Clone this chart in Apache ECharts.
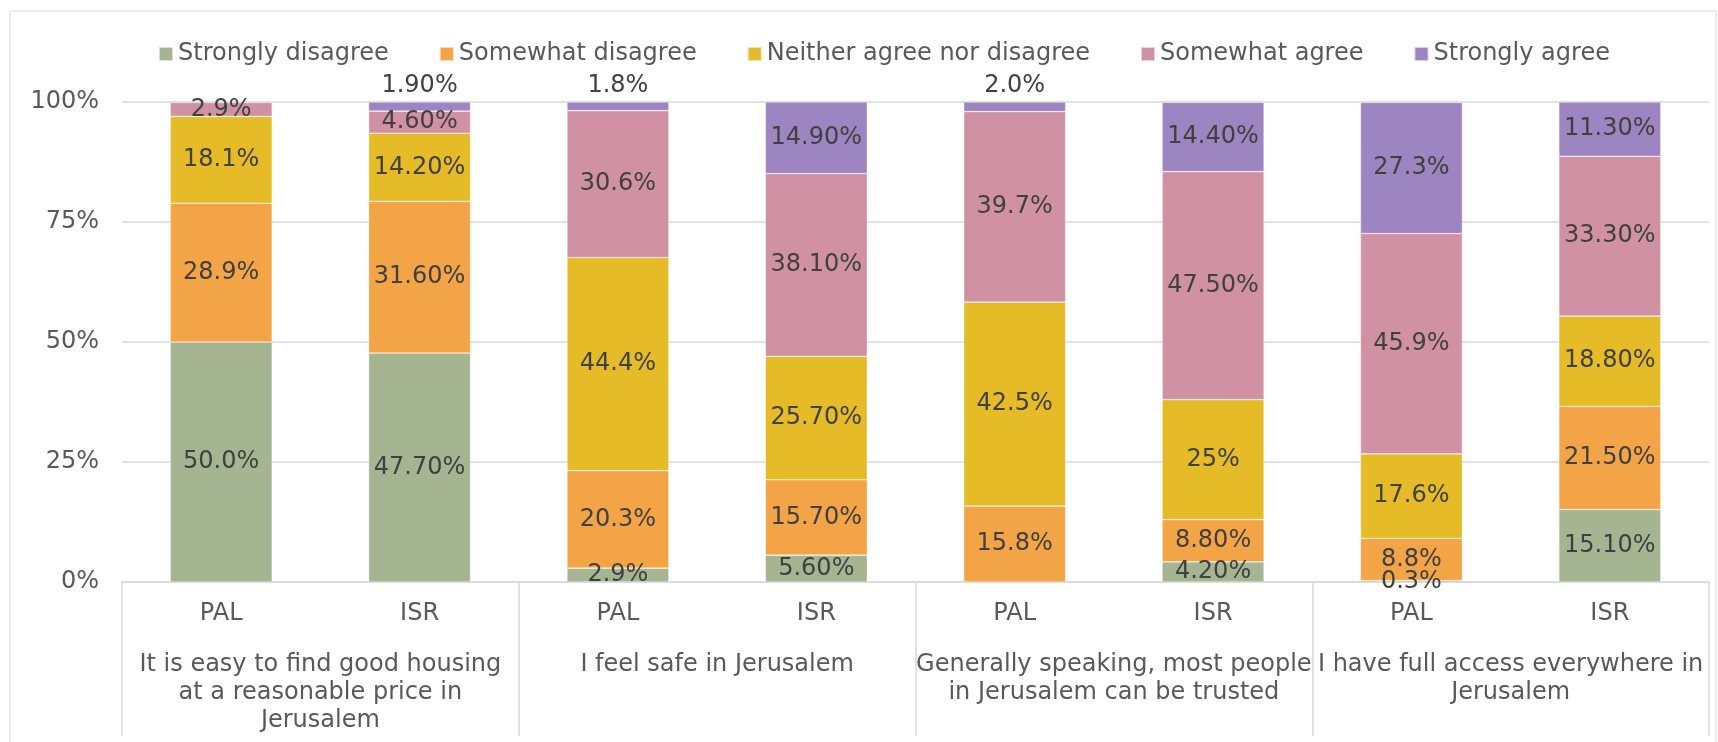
<!DOCTYPE html>
<html>
<head>
<meta charset="utf-8">
<title>Jerusalem survey</title>
<script src="https://cdn.jsdelivr.net/npm/echarts@6/dist/echarts.min.js"></script>
<style>
  html, body { margin: 0; padding: 0; background: #fff; }
  #chart { width: 1718px; height: 742px; }
</style>
</head>
<body>
<div id="chart"></div>
<script>
// sub categories (per bar) and the question groups under them
var groups = ["PAL", "ISR", "PAL", "ISR", "PAL", "ISR", "PAL", "ISR"];
var questions = [
  "It is easy to find good housing\nat a reasonable price in\nJerusalem",
  "I feel safe in Jerusalem",
  "Generally speaking, most people\nin Jerusalem can be trusted",
  "I have full access everywhere in\nJerusalem"
];
var seriesNames = ["Strongly disagree", "Somewhat disagree", "Neither agree nor disagree", "Somewhat agree", "Strongly agree"];
var colors = ["#a5b592", "#f3a447", "#e5bb27", "#d091a5", "#9c85c0"];

// values as printed on the chart (kept as strings so the decimals match)
var stronglyDisagree = ["50.0", "47.70", "2.9", "5.60", null, "4.20", "0.3", "15.10"];
var somewhatDisagree = ["28.9", "31.60", "20.3", "15.70", "15.8", "8.80", "8.8", "21.50"];
var neither = ["18.1", "14.20", "44.4", "25.70", "42.5", "25", "17.6", "18.80"];
var somewhatAgree = ["2.9", "4.60", "30.6", "38.10", "39.7", "47.50", "45.9", "33.30"];
var stronglyAgree = [null, "1.90", "1.8", "14.90", "2.0", "14.40", "27.3", "11.30"];

var allValues = [stronglyDisagree, somewhatDisagree, neither, somewhatAgree, stronglyAgree];

var FONT = '"DejaVu Sans", Verdana, sans-serif';
var dom = document.getElementById("chart");
var myChart = echarts.init(dom);

function rawOf(d) {
  if (d === null || d === undefined) return null;
  return typeof d === "object" ? d.value : d;
}

var series = seriesNames.map(function (name, i) {
  var data = allValues[i].map(function (v) {
    // small "strongly agree" slices get their label above the bar
    if (name === "Strongly agree" && v !== null && parseFloat(v) < 5) {
      return { value: v, label: { position: "top", distance: 4 } };
    }
    return v;
  });
  return {
    name: name,
    type: "bar",
    stack: "total",
    barWidth: "51.4%",
    itemStyle: { color: colors[i], borderColor: "rgba(255,255,255,0.6)", borderWidth: 0.6 },
    label: {
      show: true,
      position: "inside",
      color: "#404040",
      fontFamily: FONT,
      fontSize: 24,
      formatter: function (p) {
        var r = rawOf(p.data);
        return r === null ? "" : r + "%";
      }
    },
    data: data
  };
});

var option = {
  animation: false,
  color: colors,
  textStyle: { fontFamily: FONT },
  graphic: [
    {
      type: "rect",
      shape: { x: 10, y: 11, width: 1706, height: 800 },
      style: { fill: "none", stroke: "#d9d9d9", lineWidth: 1 },
      silent: true
    }
  ],
  legend: {
    data: seriesNames,
    left: 153,
    top: 37,
    itemWidth: 14,
    itemHeight: 14,
    itemGap: 50,
    icon: "rect",
    textStyle: { color: "#595959", fontSize: 24, fontFamily: FONT }
  },
  grid: { left: 122, right: 9, top: 102, bottom: 160 },
  xAxis: [
    {
      type: "category",
      data: groups,
      axisLine: { show: true, lineStyle: { color: "#d9d9d9", width: 1.5 } },
      axisTick: { show: false },
      axisLabel: { color: "#595959", fontSize: 24, fontFamily: FONT, margin: 20, interval: 0 }
    },
    {
      type: "category",
      data: questions,
      position: "bottom",
      axisLine: { show: false },
      axisTick: { show: true, length: 154, interval: 0, lineStyle: { color: "#d9d9d9", width: 1.5 } },
      axisLabel: {
        color: "#595959",
        fontSize: 24,
        fontFamily: FONT,
        margin: 69,
        lineHeight: 28,
        interval: 0,
        verticalAlign: "top",
        align: "center"
      }
    }
  ],
  yAxis: {
    type: "value",
    min: 0,
    max: 100,
    interval: 25,
    axisLine: { show: false },
    axisTick: { show: false },
    splitLine: { lineStyle: { color: "#d9d9d9", width: 1.5 } },
    axisLabel: { formatter: "{value}%", color: "#595959", fontSize: 24, fontFamily: FONT, margin: 23 }
  },
  series: series
};

myChart.setOption(option);
</script>
</body>
</html>
